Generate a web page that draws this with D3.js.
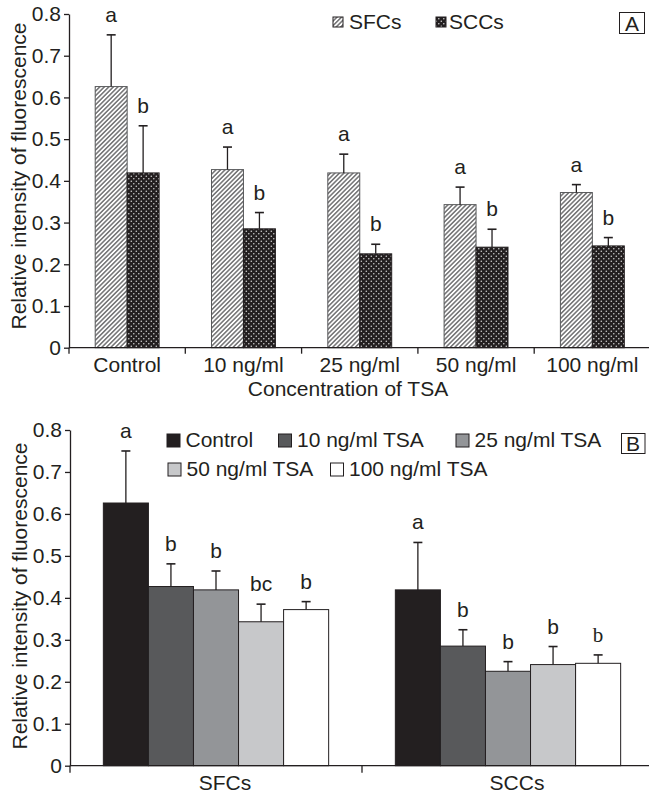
<!DOCTYPE html>
<html>
<head>
<meta charset="utf-8">
<script src="https://cdn.jsdelivr.net/npm/d3@7"></script>
<style>
  body { margin: 0; background: #fff; }
  text { font-family: "Liberation Sans", Arial, sans-serif; fill: #231f20; }
</style>
</head>
<body>
<svg id="mainSvg" width="649" height="795"></svg>
<script>
// values (same data shown in both panels)
const concentrations = ["Control", "10 ng/ml", "25 ng/ml", "50 ng/ml", "100 ng/ml"];
const cellTypes = ["SFCs", "SCCs"];
const sfcMean = [0.626, 0.427, 0.419, 0.343, 0.372];
const sfcErr = [0.124, 0.054, 0.045, 0.042, 0.019];
const sccMean = [0.419, 0.285, 0.225, 0.241, 0.244];
const sccErr = [0.113, 0.039, 0.023, 0.043, 0.020];
const lettersA_SFC = ["a", "a", "a", "a", "a"];
const lettersA_SCC = ["b", "b", "b", "b", "b"];
const lettersB_SFC = ["a", "b", "b", "bc", "b"];
const lettersB_SCC = ["a", "b", "b", "b", "b"];
const treatmentLabels = ["Control", "10 ng/ml TSA", "25 ng/ml TSA", "50 ng/ml TSA", "100 ng/ml TSA"];
const yTicks = [0, 0.1, 0.2, 0.3, 0.4, 0.5, 0.6, 0.7, 0.8];

const grays = ["#231f20", "#58595b", "#939598", "#c7c8ca", "#ffffff"];
const ink = "#231f20";
const svg = d3.select("#mainSvg");
const W = 649;

// patterns for panel A
const defs = svg.append("defs");
let hatch = defs.append("pattern").attr("id", "hatch")
    .attr("patternUnits", "userSpaceOnUse").attr("width", 3.2).attr("height", 3.2)
    .attr("patternTransform", "rotate(45)");
hatch.append("rect").attr("width", 3.2).attr("height", 3.2).attr("fill", "#fff");
hatch.append("line").attr("x1", 0.8).attr("y1", 0).attr("x2", 0.8).attr("y2", 3.2)
    .attr("stroke", "#4d4d4f").attr("stroke-width", 1.2);
let dots = defs.append("pattern").attr("id", "dots")
    .attr("patternUnits", "userSpaceOnUse").attr("width", 5).attr("height", 5);
dots.append("rect").attr("width", 5).attr("height", 5).attr("fill", ink);
dots.append("circle").attr("cx", 1.3).attr("cy", 1.3).attr("r", 0.8).attr("fill", "#d0d0d0");
dots.append("circle").attr("cx", 3.8).attr("cy", 3.8).attr("r", 0.8).attr("fill", "#d0d0d0");

const fmt = d => d === 0 ? "0" : d.toFixed(1);

function yAxis(g, y) {
    g.call(d3.axisLeft(y).tickValues(yTicks).tickFormat(fmt).tickSize(5).tickSizeOuter(0).tickPadding(3));
    g.select(".domain").attr("stroke", ink).attr("stroke-width", 1.3);
    g.selectAll(".tick line").attr("stroke", ink).attr("stroke-width", 1.3);
    g.selectAll(".tick text").attr("font-size", 21).attr("fill", ink);
}

function errorBars(g, data, y) {
    g.selectAll("line.err").data(data).enter().append("line")
        .attr("x1", d => d.cx).attr("x2", d => d.cx)
        .attr("y1", d => y(d.mean)).attr("y2", d => y(d.mean + d.err))
        .attr("stroke", ink).attr("stroke-width", 1.3);
    g.selectAll("line.cap").data(data).enter().append("line")
        .attr("x1", d => d.cx - 4.5).attr("x2", d => d.cx + 4.5)
        .attr("y1", d => y(d.mean + d.err)).attr("y2", d => y(d.mean + d.err))
        .attr("stroke", ink).attr("stroke-width", 1.6);
    g.selectAll("text.letter").data(data).enter().append("text")
        .attr("x", d => d.cx).attr("y", d => y(d.mean + d.err) - 13)
        .attr("text-anchor", "middle").attr("font-size", 21)
        .style("font-family", d => d.serif ? "'Liberation Serif', 'Times New Roman', serif" : null)
        .text(d => d.letter);
}

function panelA() {
    let y = d3.scaleLinear().domain([0, 0.8]).range([347.7, 14]);
    let x0 = d3.scaleBand().domain(concentrations).range([69, 650.5]);
    let x1 = d3.scaleBand().domain(cellTypes).range([0, x0.bandwidth()]).paddingOuter(0.82);
    let g = svg.append("g");

    let data = [];
    concentrations.forEach((c, i) => {
        data.push({cat: c, type: "SFCs", mean: sfcMean[i], err: sfcErr[i], letter: lettersA_SFC[i]});
        data.push({cat: c, type: "SCCs", mean: sccMean[i], err: sccErr[i], letter: lettersA_SCC[i]});
    });
    data.forEach(d => { d.x = x0(d.cat) + x1(d.type); d.cx = d.x + x1.bandwidth() / 2; });

    g.selectAll("rect.bar").data(data).enter().append("rect")
        .attr("x", d => d.x).attr("width", x1.bandwidth())
        .attr("y", d => y(d.mean)).attr("height", d => y(0) - y(d.mean))
        .attr("fill", d => d.type === "SFCs" ? "url(#hatch)" : "url(#dots)")
        .attr("stroke", d => d.type === "SFCs" ? "#58595b" : ink).attr("stroke-width", 1);
    errorBars(g, data, y);

    // x axis with ticks between categories
    g.append("line").attr("x1", 69).attr("x2", W).attr("y1", y(0)).attr("y2", y(0))
        .attr("stroke", ink).attr("stroke-width", 1.3);
    g.selectAll("line.xt").data(concentrations).enter().append("line")
        .attr("x1", d => x0(d)).attr("x2", d => x0(d))
        .attr("y1", y(0)).attr("y2", y(0) + 6).attr("stroke", ink).attr("stroke-width", 1.3);
    g.selectAll("text.xl").data(concentrations).enter().append("text")
        .attr("x", d => x0(d) + x0.bandwidth() / 2).attr("y", 372)
        .attr("text-anchor", "middle").attr("font-size", 21).text(d => d);
    g.append("text").attr("x", 348).attr("y", 396).attr("text-anchor", "middle")
        .attr("font-size", 21).text("Concentration of TSA");

    g.append("g").attr("transform", "translate(69,0)").call(yAxis, y);
    g.append("text").attr("transform", "translate(26,176) rotate(-90)")
        .attr("text-anchor", "middle").attr("font-size", 21).text("Relative intensity of fluorescence");

    // legend
    let leg = [{label: "SFCs", fill: "url(#hatch)", sx: 333, tx: 349}, {label: "SCCs", fill: "url(#dots)", sx: 436, tx: 449}];
    leg.forEach(l => {
        g.append("rect").attr("x", l.sx).attr("y", 17).attr("width", 10).attr("height", 10)
            .attr("fill", l.fill).attr("stroke", ink).attr("stroke-width", 1);
        g.append("text").attr("x", l.tx).attr("y", 28.5).attr("font-size", 21).text(l.label);
    });
    g.append("rect").attr("x", 619.5).attr("y", 12.5).attr("width", 25).attr("height", 21)
        .attr("fill", "none").attr("stroke", ink).attr("stroke-width", 1);
    g.append("text").attr("x", 632).attr("y", 30.5).attr("text-anchor", "middle").attr("font-size", 21).text("A");
}

function panelB() {
    let y = d3.scaleLinear().domain([0, 0.8]).range([765.7, 430]);
    let x0 = d3.scaleBand().domain(cellTypes).range([70, 654]);
    let x1 = d3.scaleBand().domain(treatmentLabels).range([0, x0.bandwidth()]).paddingOuter(0.74);
    let g = svg.append("g");

    let data = [];
    cellTypes.forEach(t => {
        treatmentLabels.forEach((c, i) => {
            let sf = t === "SFCs";
            data.push({type: t, trt: c, i: i,
                mean: sf ? sfcMean[i] : sccMean[i],
                err: sf ? sfcErr[i] : sccErr[i],
                letter: sf ? lettersB_SFC[i] : lettersB_SCC[i],
                serif: !sf && i === 4});
        });
    });
    data.forEach(d => { d.x = x0(d.type) + x1(d.trt); d.cx = d.x + x1.bandwidth() / 2; });

    g.selectAll("rect.bar").data(data).enter().append("rect")
        .attr("x", d => d.x).attr("width", x1.bandwidth())
        .attr("y", d => y(d.mean)).attr("height", d => y(0) - y(d.mean))
        .attr("fill", d => grays[d.i]).attr("stroke", ink).attr("stroke-width", 1);
    errorBars(g, data, y);

    g.append("line").attr("x1", 70).attr("x2", W).attr("y1", y(0)).attr("y2", y(0))
        .attr("stroke", ink).attr("stroke-width", 1.3);
    g.selectAll("line.xt").data(cellTypes).enter().append("line")
        .attr("x1", d => x0(d)).attr("x2", d => x0(d))
        .attr("y1", y(0)).attr("y2", y(0) + 7).attr("stroke", ink).attr("stroke-width", 1.3);
    g.selectAll("text.xl").data(cellTypes).enter().append("text")
        .attr("x", d => x0(d) + x0.bandwidth() / 2 + 9).attr("y", 790)
        .attr("text-anchor", "middle").attr("font-size", 21).text(d => d);

    g.append("g").attr("transform", "translate(70,0)").call(yAxis, y);
    g.append("text").attr("transform", "translate(27,596) rotate(-90)")
        .attr("text-anchor", "middle").attr("font-size", 21).text("Relative intensity of fluorescence");

    // legend, two rows
    let legPos = [[167, 434], [278.5, 434], [456, 434], [168, 463], [330.5, 463]];
    treatmentLabels.forEach((l, i) => {
        let p = legPos[i];
        g.append("rect").attr("x", p[0]).attr("y", p[1]).attr("width", 13).attr("height", 13)
            .attr("fill", grays[i]).attr("stroke", ink).attr("stroke-width", 1);
        g.append("text").attr("x", p[0] + 18.5).attr("y", p[1] + 13).attr("font-size", 21).text(l);
    });
    g.append("rect").attr("x", 621.5).attr("y", 433.5).attr("width", 23.5).attr("height", 20)
        .attr("fill", "none").attr("stroke", ink).attr("stroke-width", 1);
    g.append("text").attr("x", 633).attr("y", 451).attr("text-anchor", "middle").attr("font-size", 21).text("B");
}

panelA();
panelB();
</script>
</body>
</html>
